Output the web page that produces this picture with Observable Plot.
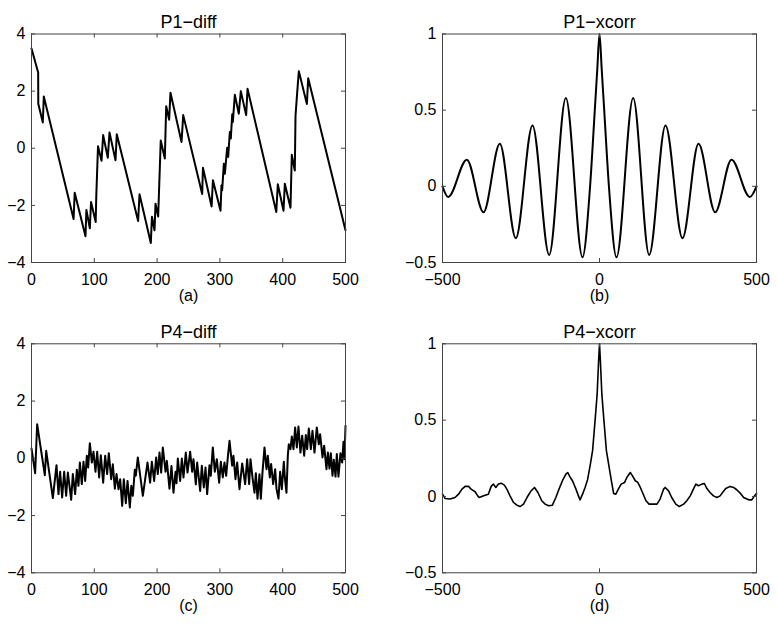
<!DOCTYPE html>
<html><head><meta charset="utf-8">
<script src="https://cdn.jsdelivr.net/npm/d3@7"></script>
<script src="https://cdn.jsdelivr.net/npm/@observablehq/plot@0.6"></script>
<style>
html,body{margin:0;padding:0;background:#fff;}
#chart{position:relative;width:777px;height:626px;overflow:hidden;}
#chart svg{position:absolute;left:0;top:0;}
</style></head><body><div id="chart"></div>
<script>
// ---- P1-diff (a) ----
const p1DiffX = [0,10.6,10.8,18.0,19.6,67.0,68.8,86.0,87.4,92.9,94.8,102.2,103.2,105.9,111.5,114.1,121.5,124.2,133.8,135.8,169.8,172.0,190.0,191.8,195.9,197.5,201.7,205.8,212.3,214.5,219.2,221.3,238.9,241.6,271.8,273.0,286.8,288.9,301.0,302.5,303.6,306.3,307.9,311.6,313.2,315.8,317.4,319.6,320.6,323.8,330.1,333.3,341.8,344.0,389.8,392.2,401.3,403.4,412.4,414.5,419.3,420.4,422.5,425.7,438.5,440.6,500];
const p1DiffY = [3.49,2.65,1.56,0.90,1.81,-2.48,-1.56,-3.08,-2.16,-2.80,-1.88,-2.58,-1.65,0.07,-0.44,0.46,-0.33,0.55,-0.42,0.49,-2.55,-1.61,-3.32,-2.40,-2.87,-1.94,-2.39,0.27,-0.36,1.47,1.00,1.94,0.22,1.16,-1.60,-0.68,-2.04,-1.12,-2.19,-1.30,-1.47,-0.54,-0.89,0.02,-0.30,0.57,0.34,1.19,0.92,1.87,1.21,2.00,1.16,2.08,-2.23,-1.26,-2.19,-1.24,-2.08,-0.23,-0.78,1.13,1.78,2.70,1.55,2.45,-2.87];

// ---- P1-xcorr (b) ----
const p1XcorrX = [-500,-482,-422.5,-369.4,-317.4,-266.5,-213.4,-160.3,-107.2,-54.1,-30,-15,-7,0,7,15,30,54.1,107.2,158.2,210.2,264.3,315.3,368.4,420.4,478.8,500];
const p1XcorrY = [0.0,-0.07,0.175,-0.17,0.28,-0.34,0.40,-0.45,0.58,-0.465,0.0,0.5,0.77,1.0,0.77,0.5,0.0,-0.465,0.58,-0.45,0.40,-0.34,0.28,-0.17,0.175,-0.07,0.0];

// ---- P4-diff (c) ----
const p4DiffX = [0,5.8,9.0,21.2,23.4,34.0,39.8,43.0,45.6,48.8,52.0,55.2,57.9,63.2,65.8,69.5,72.2,74.8,77.0,80.1,82.8,85.5,88.1,90.2,92.9,96.1,98.7,101.9,104.6,107.7,110.4,114.1,117.3,120.5,123.1,126.9,129.5,132.7,135.4,138.5,141.2,144.4,147.0,150.2,152.9,156.6,158.9,161.4,164.5,166.1,169.3,177.3,184.7,188.9,191.6,195.3,198.5,201.1,203.8,206.5,209.1,213.4,215.5,219.7,222.9,226.1,229.3,230.9,233.0,236.7,239.4,242.0,245.7,248.4,252.6,255.8,257.9,261.7,263.8,268.6,271.2,274.4,277.1,279.7,283.4,285.5,288.7,291.9,295.1,298.8,301.5,304.6,307.3,310.0,312.6,315.3,319.5,321.6,324.8,327.5,331.2,335.5,340.2,343.4,346.6,348.7,351.9,355.1,357.2,359.9,363.0,365.2,367.8,371.0,374.2,376.3,379.5,381.6,384.8,388.0,390.1,393.3,395.9,398.6,401.8,403.4,406.0,408.2,409.7,412.4,414.5,417.2,419.8,422.5,425.1,428.3,431.0,434.2,436.8,438.9,441.6,444.8,447.4,450.6,454.3,457.5,459.6,463.4,466.0,469.7,471.9,474.5,476.6,479.3,481.4,484.1,486.2,488.8,492.0,494.7,496.8,498.4,500];
const p4DiffY = [0.34,-0.52,1.19,-0.59,0.26,-1.39,-0.24,-1.25,-0.47,-1.37,-0.47,-1.31,-0.50,-1.45,-0.55,-1.25,-0.40,-0.96,-0.15,-0.90,-0.12,-0.79,0.09,-0.32,0.53,-0.15,0.23,-0.47,0.23,-0.67,0.11,-0.85,0.09,-0.55,0.18,-0.73,-0.21,-1.06,-0.55,-1.08,-0.73,-1.66,-0.73,-1.57,-0.79,-1.72,-0.96,-1.31,-0.40,-0.61,0.03,-1.31,-0.15,-0.85,-0.12,-0.79,0.03,-0.55,0.20,-0.50,0.38,-0.47,-0.09,-1.06,-0.27,-1.20,-0.47,-0.87,-0.01,-0.79,-0.01,-0.67,0.20,-0.50,0.23,-0.47,-0.03,-0.91,-0.15,-1.14,-0.26,-1.02,-0.32,-1.25,-0.24,-0.61,0.38,-0.47,-0.03,-0.85,-0.12,-0.67,-0.15,-0.61,0.03,0.61,-0.26,0.09,-0.73,-0.15,-1.08,-0.18,-0.90,-0.03,-0.90,-0.03,-0.67,-1.20,-0.52,-1.41,-0.56,-1.41,-0.50,0.38,-0.38,0.09,-0.67,-0.20,-0.90,-0.38,-1.06,-1.41,-0.47,-1.08,-0.12,-0.67,-1.20,0.11,0.49,0.32,0.76,0.32,1.08,0.38,1.11,0.20,0.79,0.09,0.81,0.32,1.04,0.32,0.96,0.20,1.08,0.49,0.84,0.03,0.44,-0.38,0.20,-0.36,0.18,-0.61,-0.05,-0.64,0.15,-0.64,0.18,-0.15,0.58,-0.03,1.14];

// ---- P4-xcorr (d) ----
const p4XcorrX = [-500,-492,-476,-460,-449,-438,-428,-417,-409,-396,-388,-383,-369,-354,-345,-338,-330,-322,-313,-303,-295,-285,-274,-263,-253,-242,-231,-218,-207,-196,-184,-173,-162,-150,-139,-129,-118,-107,-101,-93,-86,-75,-67,-62,-54,-46,-38,-30,-22,-14,-7.5,-3,0,3,7.5,14,22,30,38,45,52,60,69,80,87,98,105,114,122,130,137,148,158,169,183,193,204,209,220,230,243,254,268,278,289,299,307,315,326,334,342,352,363,374,384,392,402,416,427,437,448,459,475,485,494,500];
const p4XcorrY = [0.015,-0.013,-0.017,-0.007,0.015,0.048,0.066,0.066,0.048,0.031,0.004,-0.007,0.004,0.015,0.066,0.081,0.059,0.081,0.087,0.074,0.048,0.004,-0.039,-0.057,-0.066,-0.05,-0.007,0.037,0.059,0.026,-0.028,-0.05,-0.061,-0.057,-0.007,0.048,0.103,0.146,0.157,0.124,0.103,0.048,0.004,-0.022,0.015,0.059,0.11,0.2,0.30,0.5,0.67,0.88,1.0,0.88,0.67,0.5,0.30,0.2,0.10,0.02,0.015,0.048,0.081,0.092,0.124,0.157,0.135,0.103,0.092,0.059,0.026,-0.028,-0.05,-0.05,-0.05,-0.017,0.048,0.059,0.037,-0.007,-0.05,-0.066,-0.05,-0.028,0.004,0.048,0.081,0.070,0.081,0.085,0.052,0.026,0.004,-0.007,0.004,0.026,0.052,0.066,0.059,0.044,0.022,-0.007,-0.022,-0.022,0.004,0.02];

// ---- ticks & texts ----
const diffXTicks = [0,100,200,300,400,500];
const diffYTicks = [-4,-2,0,2,4];
const xcorrXTicks = [-500,0,500];
const xcorrYTicks = [-0.5,0,0.5,1];
const titles = ["P1\u2212diff","P1\u2212xcorr","P4\u2212diff","P4\u2212xcorr"];
const captions = ["(a)","(b)","(c)","(d)"];

const W = 777, H = 626;
const fmt = d => (d < 0 ? "\u2212" : "") + Math.abs(d);

function panel({xs, ys, xDomain, yDomain, xTicks, yTicks, title, caption, box, titleY, captionY, curve, sw}) {
  const [l, t, r, b] = box;
  const pw = r - l, ph = b - t;
  const data = xs.map((x, i) => ({x, y: ys[i]}));
  return Plot.plot({
    width: W, height: H,
    marginLeft: l, marginTop: t, marginRight: W - r, marginBottom: H - b,
    style: {background: "transparent", fontFamily: "'Liberation Sans', Arial, sans-serif", fontSize: "16px", color: "#000", overflow: "visible"},
    x: {domain: xDomain},
    y: {domain: yDomain},
    marks: [
      Plot.line(data, {x: "x", y: "y", stroke: "#000", strokeWidth: sw, curve}),
      Plot.frame({stroke: "#444", strokeWidth: 1}),
      Plot.tickX(xTicks, {x: d => d, insetTop: ph - 4, stroke: "#444"}),
      Plot.tickX(xTicks, {x: d => d, insetBottom: ph - 4, stroke: "#444"}),
      Plot.tickY(yTicks, {y: d => d, insetLeft: pw - 4, stroke: "#444"}),
      Plot.tickY(yTicks, {y: d => d, insetRight: pw - 4, stroke: "#444"}),
      Plot.axisX(xTicks, {tickSize: 0, tickPadding: 11, tickFormat: fmt, label: null, fontSize: 16}),
      Plot.axisY(yTicks, {tickSize: 0, tickPadding: 6, tickFormat: fmt, label: null, fontSize: 16}),
      Plot.text([title], {text: d => d, frameAnchor: "top", dy: titleY - t, fontSize: 18}),
      Plot.text([caption], {text: d => d, frameAnchor: "bottom", dy: captionY - b, fontSize: 16})
    ]
  });
}

const chart = document.getElementById("chart");
chart.append(panel({xs: p1DiffX, ys: p1DiffY, xDomain: [0, 500], yDomain: [-4, 4], xTicks: diffXTicks, yTicks: diffYTicks,
  title: titles[0], caption: captions[0], box: [31, 33.5, 345, 262], titleY: 15, captionY: 300.5, curve: "linear", sw: 2}));
chart.append(panel({xs: p1XcorrX, ys: p1XcorrY, xDomain: [-500, 500], yDomain: [-0.5, 1], xTicks: xcorrXTicks, yTicks: xcorrYTicks,
  title: titles[1], caption: captions[1], box: [442, 33.5, 756, 262], titleY: 15, captionY: 300.5, curve: "monotone-x", sw: 2}));
chart.append(panel({xs: p4DiffX, ys: p4DiffY, xDomain: [0, 500], yDomain: [-4, 4], xTicks: diffXTicks, yTicks: diffYTicks,
  title: titles[2], caption: captions[2], box: [31, 343.3, 345, 572.3], titleY: 325, captionY: 610.5, curve: "linear", sw: 2}));
chart.append(panel({xs: p4XcorrX, ys: p4XcorrY, xDomain: [-500, 500], yDomain: [-0.5, 1], xTicks: xcorrXTicks, yTicks: xcorrYTicks,
  title: titles[3], caption: captions[3], box: [442, 343.3, 756, 572.3], titleY: 325, captionY: 610.5, curve: "linear", sw: 1.6}));
</script></body></html>
